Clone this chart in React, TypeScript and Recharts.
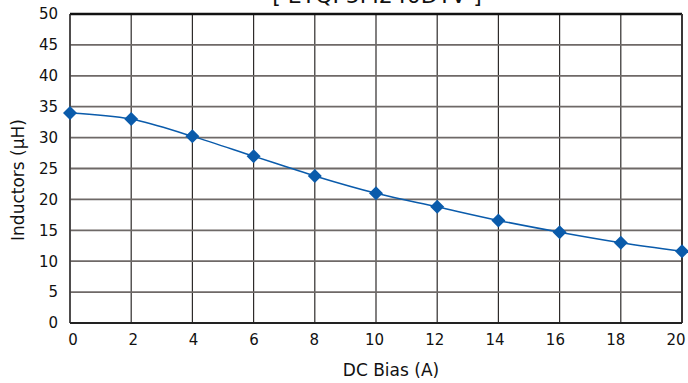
import { CartesianGrid, Line, LineChart, ReferenceLine, XAxis, YAxis } from 'recharts';

const biasAmps = [0, 2, 4, 6, 8, 10, 12, 14, 16, 18, 20];
const inductance = [34.0, 33.0, 30.2, 27.0, 23.8, 21.0, 18.8, 16.6, 14.7, 13.0, 11.6];
const xTicks = [0, 2, 4, 6, 8, 10, 12, 14, 16, 18, 20];
const yTicks = [0, 5, 10, 15, 20, 25, 30, 35, 40, 45, 50];

const chartTitle = '[ ETQP5M240DTV ]';
const xTitle = 'DC Bias (A)';
const yTitle = 'Inductors (μH)';

const data = biasAmps.map((a, i) => ({ bias: a, value: inductance[i] }));

const font = '"DejaVu Sans", Verdana, sans-serif';
const blue = '#0a5bab';

function Diamond(props: any) {
  const { cx, cy } = props;
  if (cx == null || cy == null) return null;
  const r = 7;
  return (
    <polygon
      points={`${cx},${cy - r} ${cx + r},${cy} ${cx},${cy + r} ${cx - r},${cy}`}
      fill={blue}
    />
  );
}

// x labels drift slightly left of their gridlines toward the right end
function XTick(props: any) {
  const { x, y, payload } = props;
  const shift = 3 - (payload.value / 20) * 9;
  return (
    <text x={x + shift} y={y} dy="0.71em" textAnchor="middle" fill="#111" fontSize={15} fontFamily={font}>
      {payload.value}
    </text>
  );
}

export default function App() {
  const tick = { fill: '#111', fontSize: 15, fontFamily: font };
  return (
    <div style={{ position: 'absolute', left: 0, top: 0, width: 688, height: 383, overflow: 'hidden', background: '#fff' }}>
      <LineChart width={688} height={383} data={data} margin={{ top: 14, right: 6, bottom: 0, left: 0 }}>
        <CartesianGrid horizontal={false} stroke="#2e2b2a" strokeWidth={1.2} />
        <CartesianGrid vertical={false} stroke="#6e6967" strokeWidth={1.8} />
        <XAxis
          dataKey="bias"
          type="number"
          domain={[0, 20]}
          ticks={xTicks}
          height={60}
          tickLine={false}
          tickSize={0}
          tickMargin={11}
          axisLine={{ stroke: '#222', strokeWidth: 2 }}
          tick={<XTick />}
          interval={0}
        />
        <YAxis
          type="number"
          domain={[0, 50]}
          ticks={yTicks}
          width={70}
          tickLine={false}
          tickSize={0}
          tickMargin={12}
          axisLine={{ stroke: '#2e2b2a', strokeWidth: 1.2 }}
          tick={tick}
          interval={0}
        />
        <ReferenceLine y={50} stroke="#111" strokeWidth={2.5} />
        <ReferenceLine x={20} stroke="#3a3636" strokeWidth={2} />
        <Line
          dataKey="value"
          type="monotone"
          stroke={blue}
          strokeWidth={1.5}
          dot={<Diamond />}
          activeDot={false}
          isAnimationActive={false}
        />
      </LineChart>
      <div
        style={{
          position: 'absolute', left: 0, width: 754, top: -17, textAlign: 'center',
          fontFamily: font, fontSize: 22, color: '#111', whiteSpace: 'nowrap',
        }}
      >
        {chartTitle}
      </div>
      <div
        style={{
          position: 'absolute', left: 291, width: 200, top: 360, textAlign: 'center',
          fontFamily: font, fontSize: 17, color: '#111', whiteSpace: 'nowrap',
        }}
      >
        {xTitle}
      </div>
      <div
        style={{
          position: 'absolute', left: 18, top: 181, width: 0, height: 0,
        }}
      >
        <div
          style={{
            position: 'absolute', left: -100, top: -11, width: 200, textAlign: 'center',
            transform: 'rotate(-90deg)', fontFamily: font, fontSize: 17, color: '#111', whiteSpace: 'nowrap',
          }}
        >
          {yTitle}
        </div>
      </div>
    </div>
  );
}
